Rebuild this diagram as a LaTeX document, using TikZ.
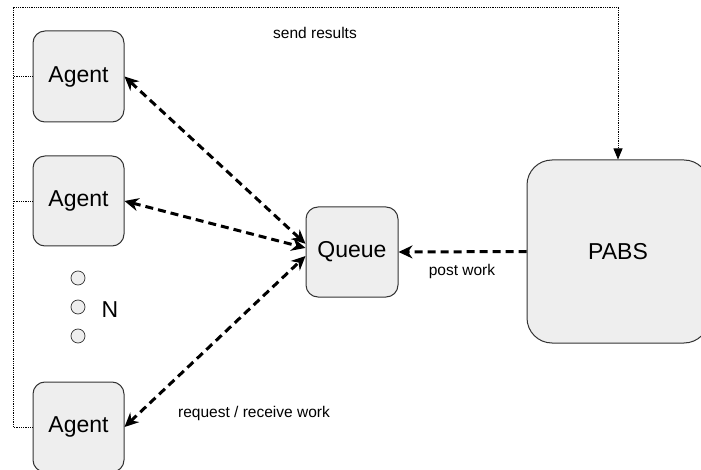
\documentclass[tikz,border=0pt]{standalone}
\usepackage{fontspec}
\setmainfont{Liberation Sans}
\usetikzlibrary{arrows.meta}
\definecolor{boxfill}{HTML}{EEEEEE}
\definecolor{boxline}{HTML}{333333}
\begin{document}
\begin{tikzpicture}[x=1pt, y=-1pt, >={Stealth[length=14pt,width=13pt]},
    box/.style={draw=boxline, fill=boxfill, line width=1pt, rounded corners=12pt, inner sep=0pt, font=\fontsize{23}{27}\selectfont},
    dot/.style={circle, draw=boxline, fill=boxfill, line width=0.7pt, minimum size=14pt, inner sep=0pt},
    link/.style={line width=3pt, dash pattern=on 8pt off 5pt},
    result/.style={densely dotted, line width=0.8pt},
    lbl/.style={font=\fontsize{15.5}{18}\selectfont}]
      \useasboundingbox (0,0) rectangle (701,470);
      \node (agent1) at (78.5,76.5) [box, minimum width=91pt, minimum height=91pt] {Agent};
      \node (agent2) at (78.5,201) [box, minimum width=91pt, minimum height=90pt] {Agent};
      \node (agent3) at (78.5,427) [box, minimum width=91pt, minimum height=90pt] {Agent};
      \node (queue) at (352,252) [box, minimum width=92pt, minimum height=90pt] {Queue};
      \node (pabs) at (618,251.5) [box, rounded corners=25pt, minimum width=182pt, minimum height=183pt] {PABS};
      \node (dot1) at (78,278) [dot] {};
      \node (dot2) at (78,307) [dot] {};
      \node (dot3) at (78,336) [dot] {};
      \node (n) at (110,310) [font=\fontsize{23}{27}\selectfont] {N};
      \node (send) at (315,33) [lbl] {send results};
      \node (post) at (462,271) [lbl] {post work};
      \node (request) at (254,413) [lbl] {request / receive work};
      \coordinate (corner) at (13,7);
      % results go back to PABS
      \draw[result, -{Triangle[length=11pt,width=9pt]}] (agent3.west) -| (corner) -| (pabs.north);
      \foreach \agent in {agent1, agent2}
        \draw[result] (\agent.west) -- (\agent.west -| corner);
      % work requests
      \foreach \source/\dest in {agent1/queue.170, agent2/queue.175, agent3/queue.185}
        \path[link, <->] (\source.east) edge (\dest);
      \draw[link, ->] (pabs.west) -- (queue.east);
    \end{tikzpicture}
\end{document}
